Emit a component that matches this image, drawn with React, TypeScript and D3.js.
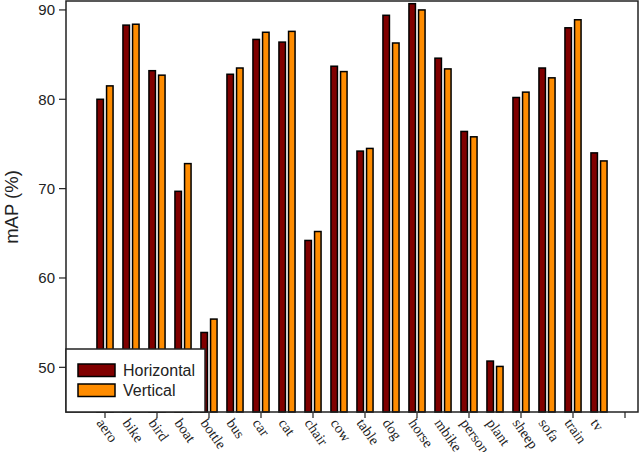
import React, { useRef, useEffect } from "react";
import * as d3 from "d3";

const categories = [
  "aero", "bike", "bird", "boat", "bottle", "bus", "car", "cat", "chair", "cow",
  "table", "dog", "horse", "mbike", "person", "plant", "sheep", "sofa", "train", "tv",
];

const horizontal = [
  80.0, 88.3, 83.2, 69.7, 53.9, 82.8, 86.7, 86.4, 64.2, 83.7,
  74.2, 89.4, 90.7, 84.6, 76.4, 50.7, 80.2, 83.5, 88.0, 74.0,
];

const vertical = [
  81.5, 88.4, 82.7, 72.8, 55.4, 83.5, 87.5, 87.6, 65.2, 83.1,
  74.5, 86.3, 90.0, 83.4, 75.8, 50.1, 80.8, 82.4, 88.9, 73.1,
];

const yTicks = [50, 60, 70, 80, 90];
const seriesNames = ["Horizontal", "Vertical"];
const seriesColors = ["#800000", "#ff8c00"];

const WIDTH = 640;
const HEIGHT = 452;

const App = () => {
  const svgRef = useRef<SVGSVGElement>(null);

  useEffect(() => {
    const svg = d3.select(svgRef.current);
    svg.selectAll("*").remove();

    const left = 66;
    const right = 638;
    const top = 1;
    const bottom = 412;

    const x = d3.scaleLinear().domain([-1.5, 20.5]).range([left, right]);
    const y = d3.scaleLinear().domain([45, 91]).range([bottom, top]);

    const sans = "'Liberation Sans', Arial, sans-serif";
    const serif = "'Liberation Serif', 'Times New Roman', serif";

    svg.append("rect").attr("width", WIDTH).attr("height", HEIGHT).attr("fill", "#fff");

    // bars
    const series = [horizontal, vertical];
    const offsets = [
      [-0.31, -0.06],
      [0.06, 0.31],
    ];
    series.forEach((vals, s) => {
      svg
        .append("g")
        .selectAll("rect")
        .data(vals)
        .enter()
        .append("rect")
        .attr("x", (d, i) => x(i + offsets[s][0]))
        .attr("width", (d, i) => x(i + offsets[s][1]) - x(i + offsets[s][0]))
        .attr("y", (d) => y(d))
        .attr("height", (d) => y(45) - y(d))
        .attr("fill", seriesColors[s])
        .attr("stroke", "#000")
        .attr("stroke-width", 1.5);
    });

    // frame
    svg
      .append("rect")
      .attr("x", left)
      .attr("y", top)
      .attr("width", right - left)
      .attr("height", bottom - top)
      .attr("fill", "none")
      .attr("stroke", "#222")
      .attr("stroke-width", 1.5);

    // y axis ticks
    yTicks.forEach((t) => {
      svg
        .append("line")
        .attr("x1", left - 7)
        .attr("x2", left)
        .attr("y1", y(t))
        .attr("y2", y(t))
        .attr("stroke", "#222")
        .attr("stroke-width", 1.2);
      svg
        .append("text")
        .attr("x", left - 11)
        .attr("y", y(t))
        .attr("dy", "0.35em")
        .attr("text-anchor", "end")
        .style("font-family", sans)
        .style("font-size", "15px")
        .attr("fill", "#222")
        .text(t);
    });

    svg
      .append("text")
      .attr("transform", `translate(18, 207) rotate(-90)`)
      .attr("text-anchor", "middle")
      .style("font-family", sans)
      .style("font-size", "18.5px")
      .attr("fill", "#222")
      .text("mAP (%)");

    // x ticks every other category
    d3.range(0, 21, 2).forEach((i) => {
      svg
        .append("line")
        .attr("x1", x(i))
        .attr("x2", x(i))
        .attr("y1", bottom)
        .attr("y2", bottom + 6)
        .attr("stroke", "#222")
        .attr("stroke-width", 1.2);
    });

    categories.forEach((c, i) => {
      svg
        .append("text")
        .attr("transform", `translate(${x(i) - 9}, ${bottom + 11}) rotate(55)`)
        .attr("text-anchor", "start")
        .style("font-family", serif)
        .style("font-size", "14.5px")
        .attr("fill", "#222")
        .text(c);
    });

    // legend
    const legend = svg.append("g").attr("transform", `translate(${left}, 349)`);
    legend
      .append("rect")
      .attr("width", 139)
      .attr("height", bottom - 349)
      .attr("fill", "#fff")
      .attr("stroke", "#222")
      .attr("stroke-width", 1.5);
    seriesNames.forEach((name, i) => {
      const row = legend.append("g").attr("transform", `translate(12, ${15 + i * 20})`);
      row
        .append("rect")
        .attr("width", 37)
        .attr("height", 12.5)
        .attr("fill", seriesColors[i])
        .attr("stroke", "#000")
        .attr("stroke-width", 1.5);
      row
        .append("text")
        .attr("x", 45)
        .attr("y", 12)
        .style("font-family", sans)
        .style("font-size", "16px")
        .attr("fill", "#222")
        .text(name);
    });
  }, []);

  return (
    <svg
      ref={svgRef}
      width={WIDTH}
      height={HEIGHT}
      style={{ position: "absolute", left: 0, top: 0 }}
    ></svg>
  );
};

export default App;
